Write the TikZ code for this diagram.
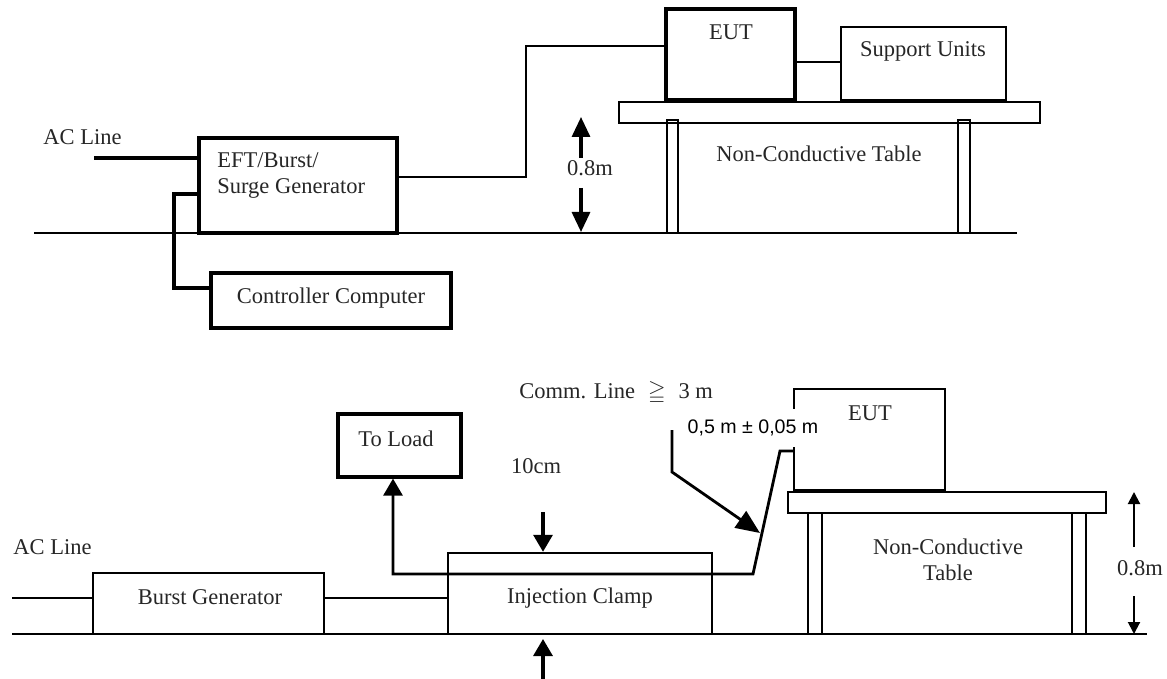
\documentclass[tikz,border=0pt]{standalone}
\usepackage{fontspec}
\usepackage{amssymb}
\setmainfont{Liberation Serif}
\newfontfamily\arialfont{Liberation Sans}
\usetikzlibrary{arrows.meta,fit}
\begin{document}
\begin{tikzpicture}[x=0.5pt,y=-0.5pt,
  thinl/.style={line width=1pt},
  wire/.style={line width=1.2pt},
  heavy/.style={line width=1.6pt},
  box/.style={draw, inner sep=0pt},
  lbl/.style={inner sep=0pt, font=\fontsize{11.25}{13}\selectfont, text=black!85},
  bigtip/.style={-{Triangle[length=10pt,width=9pt]}},
  midtip/.style={-{Triangle[length=8.5pt,width=9.5pt]}},
  smalltip/.style={-{Triangle[length=6pt,width=6pt]}},
  pointtip/.style={-{Triangle[length=12pt,width=10pt]}}]
\useasboundingbox (0,0) rectangle (1167,679);

% ---------------- level helpers ----------------
\coordinate (y46) at (0,46);
\coordinate (y62) at (0,62);
\coordinate (y158) at (0,158);
\coordinate (y177) at (0,177);
\coordinate (y194) at (0,194);
\coordinate (y288) at (0,288);
\coordinate (y451) at (0,451);
\coordinate (y598) at (0,598);
\coordinate (x393) at (393,0);

% ================= TOP DIAGRAM =================
\coordinate (g1a) at (34,233);
\coordinate (g1b) at (1017,233);
\draw[thinl] (g1a) -- (g1b);

\node[box, heavy, fit={(199,138) (397,233)}] (eft) {};
\node[lbl, align=left, anchor=west] (eftlbl) at (217,176) {EFT/Burst/\\Surge Generator};

\node[lbl, anchor=west] (ac1) at (43,137) {AC Line};
\coordinate (ac1w) at (94,158);
\draw[heavy] (ac1w) -- (ac1w -| eft.west);

\node[box, heavy, fit={(211,273) (451,328)}] (ctrl) {};
\node[lbl] (ctrllbl) at (331,298) {Controller Computer};
\draw[heavy] (eft.west |- y194) -- (174,194) -- (174,288) -- (ctrl.west |- y288);

\node[box, heavy, fit={(666,9) (795,100)}] (eut1) {};
\node[lbl] (eut1lbl) at (731,32) {EUT};
\draw[wire] (eft.east |- y177) -- (526,177) -- (526,46) -- (eut1.west |- y46);

\node[box, wire, fit={(841,27) (1006,100)}] (sup) {};
\node[lbl] (suplbl) at (923,51) {Support Units};
\draw[wire] (eut1.east |- y62) -- (sup.west |- y62);

\node[box, wire, fit={(619,102) (1040,123)}] (tt1) {};
\node[box, wire, fit={(667,120) (678,233)}] (leg1a) {};
\node[box, wire, fit={(958,120) (970,233)}] (leg1b) {};
\node[lbl] (tab1lbl) at (819,154) {Non-Conductive Table};

\node[lbl] (h1) at (590,168) {0.8m};
\coordinate (h1a) at (581,158);
\coordinate (h1top) at (581,117);
\coordinate (h1b) at (581,188);
\coordinate (h1bot) at (581,232);
\draw[heavy, bigtip] (h1a) -- (h1top);
\draw[heavy, bigtip] (h1b) -- (h1bot);

% ================= BOTTOM DIAGRAM =================
\coordinate (g2a) at (12,634);
\coordinate (g2b) at (1147,634);
\draw[thinl] (g2a) -- (g2b);

\node[lbl, anchor=west] (ac2) at (13,547) {AC Line};

\node[box, wire, fit={(93,573) (324,634)}] (burst) {};
\node[lbl] (burstlbl) at (210,597) {Burst Generator};
\coordinate (ac2w) at (12,598);
\draw[wire] (ac2w) -- (burst.west |- y598);

\node[box, wire, fit={(448,553) (712,634)}] (clamp) {};
\node[lbl] (clamplbl) at (580,598) {Injection Clamp};
\draw[wire] (burst.east |- y598) -- (clamp.west |- y598);

\node[box, heavy, fit={(338,414) (461,477)}] (load) {};
\node[lbl] (loadlbl) at (396,439) {To Load};

\node[box, wire, fit={(794,389) (945,490)}] (eut2) {};
\node[lbl] (eut2lbl) at (870,413) {EUT};

\draw[line width=1.4pt, midtip] (eut2.west |- y451) -- (780,451) -- (753,574) -- (393,574) -- (load.south -| x393);

\node[box, wire, fit={(788,492) (1106,513)}] (tt2) {};
\node[box, wire, fit={(808,513) (822,634)}] (leg2a) {};
\node[box, wire, fit={(1072,513) (1086,634)}] (leg2b) {};
\node[lbl, align=center] (tab2lbl) at (948,560) {Non-Conductive\\Table};

\node[lbl] (h2) at (1140,568) {0.8m};
\coordinate (h2a) at (1134,547);
\coordinate (h2top) at (1134,492);
\coordinate (h2b) at (1134,596);
\coordinate (h2bot) at (1134,634);
\draw[thinl, smalltip] (h2a) -- (h2top);
\draw[thinl, smalltip] (h2b) -- (h2bot);

\node[lbl] (cm) at (536,466) {10cm};
\coordinate (cma) at (543,512);
\coordinate (cmb) at (543,679);
\coordinate (cmbtip) at (543,639);
\draw[heavy, midtip] (cma) -- (clamp.north -| cma);
\draw[heavy, midtip] (cmb) -- (cmbtip);

\node[lbl, anchor=west] (comm) at (519,393) {Comm. Line\hspace{6.5pt}$\geqq$\hspace{6.5pt}3 m};

\node[fill=white, inner xsep=1pt, inner ysep=5.5pt, font=\arialfont\fontsize{9.8}{11}\selectfont] (dist) at (753,428) {0,5 m ± 0,05 m};

\coordinate (p1) at (672,430);
\coordinate (ptip) at (760,533);
\draw[line width=1.4pt, pointtip] (p1) -- (672,472) -- (ptip);
\end{tikzpicture}
\end{document}
